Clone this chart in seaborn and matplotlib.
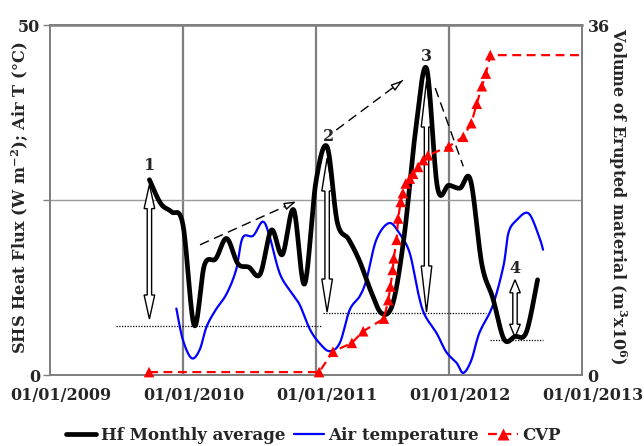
import numpy as np
import pandas as pd
import matplotlib
matplotlib.use("Agg")
import matplotlib.pyplot as plt
import matplotlib.dates as mdates
from matplotlib.patches import Polygon
from matplotlib.lines import Line2D
from matplotlib.transforms import IdentityTransform, ScaledTranslation
import seaborn as sns

# ---------------- data ----------------
x_tick_labels = ["01/01/2009", "01/01/2010", "01/01/2011", "01/01/2012", "01/01/2013"]

hf_dates = pd.date_range("2009-10-01", periods=36, freq="MS")
hf_values = [27.9, 24.5, 23.3, 21.5, 7.1, 15.7, 16.6, 19.5, 15.9, 15.4, 14.4, 20.7,
             17.2, 23.6, 13.0, 27.5, 32.6, 21.8, 19.4, 16.3, 12.0, 8.8, 10.3, 20.0,
             34.5, 43.8, 26.8, 27.1, 26.7, 27.8, 15.8, 11.0, 5.1, 5.5, 6.1, 13.6]

air_dates = ["2009-12-14", "2010-01-01", "2010-01-25", "2010-02-16", "2010-03-07", "2010-04-01",
             "2010-05-01", "2010-05-27", "2010-06-14", "2010-07-13", "2010-08-08", "2010-08-26",
             "2010-09-24", "2010-10-27", "2010-11-18", "2010-12-16", "2011-01-12", "2011-02-08",
             "2011-03-08", "2011-04-04", "2011-05-01", "2011-05-20", "2011-06-16", "2011-07-21",
             "2011-08-19", "2011-09-16", "2011-10-09", "2011-10-27", "2011-11-29", "2011-12-25",
             "2012-01-23", "2012-02-10", "2012-03-03", "2012-03-25", "2012-04-30", "2012-05-30",
             "2012-06-13", "2012-07-05", "2012-08-07", "2012-09-05", "2012-09-16"]
air_values = [9.5, 5.0, 2.4, 3.6, 6.9, 9.3, 11.6, 15.0, 19.6, 19.9, 21.9, 20.0,
              14.5, 11.7, 10.0, 6.5, 4.5, 3.4, 4.6, 9.3, 11.2, 13.6, 19.3, 21.7,
              20.2, 17.4, 11.7, 8.6, 5.95, 3.3, 1.7, 0.3, 2.1, 6.0, 9.8, 15.5,
              20.3, 22.1, 23.1, 19.8, 17.9]

cvp_dates = ["2009-09-30", "2011-01-10", "2011-02-17", "2011-04-10", "2011-05-11", "2011-07-07",
             "2011-07-19", "2011-07-25", "2011-07-31", "2011-08-03", "2011-08-11", "2011-08-15",
             "2011-08-22", "2011-08-28", "2011-09-05", "2011-09-16", "2011-09-25", "2011-10-09",
             "2011-10-23", "2011-11-05", "2012-01-01", "2012-02-10", "2012-03-03", "2012-03-18",
             "2012-04-01", "2012-04-12", "2012-04-24", "2013-01-01"]
cvp_values = [0.3, 0.3, 2.4, 3.3, 4.5, 5.8, 7.7, 9.1, 10.8, 12.0, 13.9, 16.1,
              17.8, 18.7, 19.7, 20.2, 20.7, 21.4, 22.1, 22.6, 23.5, 24.5, 25.9, 27.9,
              29.7, 31.0, 32.9, 32.9]
cvp_marked = len(cvp_values) - 1   # last point only extends the line

series_names = ["Hf Monthly average", "Air temperature", "CVP"]

# annotations: event labels, double arrows, baselines, trend lines
event_labels = ["1", "2", "3", "4"]
event_label_pos = [("2009-10-01", 30.0), ("2011-02-04", 34.1), ("2011-11-01", 45.5), ("2012-07-01", 15.2)]
arrows = [("2009-10-01", 8.0, 27.2, 24), ("2011-02-01", 9.0, 31.0, 33),
          ("2011-11-01", 9.0, 42.0, 46), ("2012-07-01", 5.4, 13.6, 13)]
baselines = [("2009-07-01", "2011-01-15", 7.0), ("2011-01-22", "2012-04-12", 8.8),
             ("2012-04-22", "2012-09-16", 5.0)]
trends = [("2010-02-17", 18.6, "2010-11-08", 24.8, True),
          ("2011-02-26", 35.0, "2011-08-28", 42.1, True),
          ("2011-11-25", 41.0, "2012-02-10", 29.8, False)]


def catmull_rom(x, y, n=24):
    P = np.column_stack([x, y]).astype(float)
    P = np.vstack([P[0], P, P[-1]])
    t = np.linspace(0, 1, n, endpoint=False)[:, None]
    out = []
    for i in range(1, len(P) - 2):
        p0, p1, p2, p3 = P[i - 1], P[i], P[i + 1], P[i + 2]
        out.append(0.5 * (2 * p1 + (-p0 + p2) * t + (2 * p0 - 5 * p1 + 4 * p2 - p3) * t ** 2
                          + (-p0 + 3 * p1 - 3 * p2 + p3) * t ** 3))
    out.append(P[-2][None, :])
    return np.vstack(out)


def dn(d):
    return mdates.date2num(pd.to_datetime(d))


# ---------------- style ----------------
sns.set_style("white")
plt.rcParams["font.family"] = ["DejaVu Serif"]
plt.rcParams["font.weight"] = "bold"
plt.rcParams["mathtext.fontset"] = "dejavuserif"
plt.rcParams["mathtext.default"] = "bf"
FS = 11.5

fig = plt.figure(figsize=(6.44, 4.46), dpi=100)
ax = fig.add_axes([50 / 644, 71 / 446, 532 / 644, 350 / 446])
ax2 = ax.twinx()

x0 = dn(pd.to_datetime(x_tick_labels[0], format="%d/%m/%Y"))
x1 = dn(pd.to_datetime(x_tick_labels[-1], format="%d/%m/%Y"))
ax.set_xlim(x0, x1)
ax.set_ylim(0, 50)
ax2.set_ylim(0, 36)

# grid
tick_pos = [dn(pd.to_datetime(t, format="%d/%m/%Y")) for t in x_tick_labels]
for xp in tick_pos[1:-1]:
    ax.axvline(xp, color="#7f7f7f", lw=1.6, zorder=0.5)
ax.axhline(25, color="#9a9a9a", lw=1.0, zorder=0.5)

# Hf smoothed
hf_s = catmull_rom(dn(hf_dates), hf_values)
df_hf = pd.DataFrame({"x": hf_s[:, 0], "y": hf_s[:, 1]})
sns.lineplot(data=df_hf, x="x", y="y", ax=ax, color="black", lw=3.4, sort=False,
             estimator=None, zorder=4)

# Air temperature smoothed
air_s = catmull_rom(dn(air_dates), air_values)
df_air = pd.DataFrame({"x": air_s[:, 0], "y": air_s[:, 1]})
sns.lineplot(data=df_air, x="x", y="y", ax=ax, color="#0000ff", lw=1.6, sort=False,
             estimator=None, zorder=3)

# CVP on secondary axis
df_cvp = pd.DataFrame({"x": dn(cvp_dates), "y": cvp_values})
sns.lineplot(data=df_cvp, x="x", y="y", ax=ax2, color="red", lw=1.6, sort=False,
             estimator=None, linestyle=(0, (4, 2.5)), zorder=3)
sns.scatterplot(data=df_cvp.iloc[:cvp_marked], x="x", y="y", ax=ax2, color="red",
                marker="^", s=58, edgecolor="none", zorder=4, clip_on=False)

# baselines
for xa, xb, yv in baselines:
    ax.plot([dn(xa), dn(xb)], [yv, yv], color="black", lw=0.9, ls=(0, (1, 1.2)), zorder=2)

# trend lines
for xa, ya, xb, yb, head in trends:
    ax.plot([dn(xa), dn(xb)], [ya, yb], color="black", lw=1.0, ls=(0, (7, 4)), zorder=2)
    if head:
        xs = dn(xa) + 0.92 * (dn(xb) - dn(xa))
        ys = ya + 0.92 * (yb - ya)
        ax.annotate("", xy=(dn(xb), yb), xytext=(xs, ys),
                    arrowprops=dict(arrowstyle="-|>,head_length=0.7,head_width=0.22",
                                    lw=1.0, color="black", fc="white", shrinkA=0, shrinkB=0),
                    zorder=2)

# double block arrows (drawn in pixel space)
fig.canvas.draw()
for xd, ylo, yhi, hl in arrows:
    pb = ax.transData.transform((dn(xd), ylo))
    pt = ax.transData.transform((dn(xd), yhi))
    cx, yb, yt = pb[0], pb[1], pt[1]
    hw, sw = 5.3, 2.2
    verts = [(cx, yt), (cx + hw, yt - hl), (cx + sw, yt - hl), (cx + sw, yb + hl),
             (cx + hw, yb + hl), (cx, yb), (cx - hw, yb + hl), (cx - sw, yb + hl),
             (cx - sw, yt - hl), (cx - hw, yt - hl)]
    poly = Polygon(verts, closed=True, fc="white", ec="black", lw=1.0,
                   transform=IdentityTransform(), zorder=2.5)
    ax.add_patch(poly)

for lab, (xd, yv) in zip(event_labels, event_label_pos):
    ax.text(dn(xd), yv, lab, ha="center", va="center", fontsize=FS, fontweight="bold", zorder=6)

# axes formatting
ax.set_xticks(tick_pos)
ax.set_xticklabels(x_tick_labels, fontsize=FS, fontweight="bold")
ax.set_yticks([0, 25, 50])
ax.set_yticklabels(["0", "", "50"], fontsize=FS, fontweight="bold")
ax2.set_yticks([0, 36])
ax2.set_yticklabels(["0", "36"], fontsize=FS, fontweight="bold")
ax.tick_params(axis="x", length=0, pad=9)
ax.tick_params(axis="y", length=5, width=1, color="#7f7f7f", pad=2, direction="out")
ax2.tick_params(axis="y", length=0, pad=4)
ax.set_xlabel("")
ax2.set_xlabel("")
ax.set_ylabel("SHS Heat Flux (W m$^{-2}$); Air T (°C)", fontsize=11.7, fontweight="bold",
              va="center")
ax.yaxis.set_label_coords(-0.056, 0.508)
ax2.set_ylabel("Volume of Erupted material (m$^{3}$x10$^{6}$)", fontsize=FS, fontweight="bold",
               rotation=-90, va="center")
ax2.yaxis.set_label_coords(1.066, 0.51)
for a in (ax, ax2):
    for s in a.spines.values():
        s.set_color("#7f7f7f")
        s.set_linewidth(1.3)
ax2.spines["top"].set_linewidth(1.8)

# Excel places the date labels slightly right of their ticks
offset = ScaledTranslation(11 / 100, 0, fig.dpi_scale_trans)
for lab in ax.get_xticklabels():
    lab.set_transform(lab.get_transform() + offset)

handles = [Line2D([], [], color="black", lw=3.4),
           Line2D([], [], color="#0000ff", lw=1.6),
           Line2D([], [], color="red", lw=1.6, ls=(0, (4, 2.5)), marker="^", markersize=8,
                  markeredgecolor="none")]
fig.legend(handles, series_names, loc="center", bbox_to_anchor=(0.487, 0.024), ncol=3,
           frameon=False, handlelength=1.8, handletextpad=0.25, columnspacing=0.55,
           prop={"family": "DejaVu Serif", "weight": "bold", "size": 12})

fig.savefig("out.png", dpi=100, facecolor="white")
